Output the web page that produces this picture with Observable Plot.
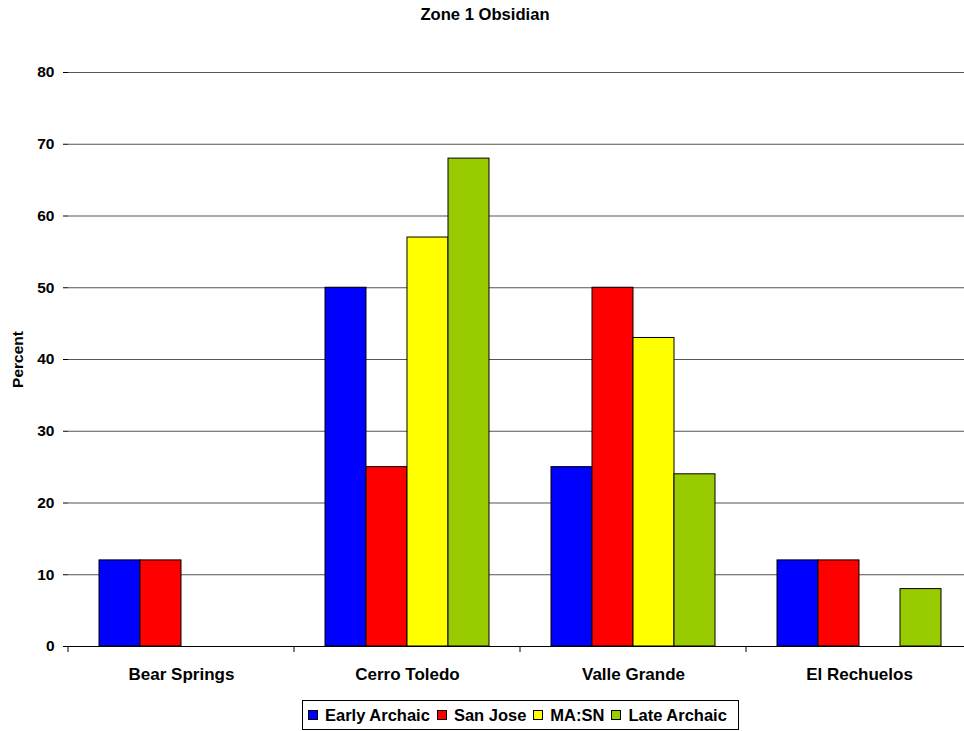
<!DOCTYPE html>
<html>
<head>
<meta charset="utf-8">
<script src="https://cdn.jsdelivr.net/npm/d3@7"></script>
<script src="https://cdn.jsdelivr.net/npm/@observablehq/plot@0.6"></script>
<style>
  html, body { margin: 0; padding: 0; background: #fff; overflow: hidden; }
  body { font-family: "Liberation Sans", Arial, sans-serif; width: 964px; height: 731px; position: relative; }
  #title { position: absolute; left: 0; top: 5px; width: 970px; text-align: center; font-weight: bold; font-size: 16.6px; color: #000; }
  #chart { position: absolute; left: 0; top: 0; }
  #chart svg { max-width: none !important; }
  #legend { position: absolute; left: 302px; top: 700px; height: 30px; border: 1px solid #000; display: flex; align-items: center; padding: 0 11px 0 5px; box-sizing: border-box; background: #fff; }
  #legend .item { display: flex; align-items: center; font-weight: bold; font-size: 16.5px; margin-right: 7px; }
  #legend .item:last-child { margin-right: 0; }
  #legend .sw { width: 10px; height: 10px; border: 1px solid #000; margin-right: 7px; box-sizing: border-box; }
</style>
</head>
<body>
<div id="title">Zone 1 Obsidian</div>
<div id="chart"></div>
<div id="legend"></div>
<script>
// Obsidian source percentages by period
const sites = ["Bear Springs", "Cerro Toledo", "Valle Grande", "El Rechuelos"];
const periods = ["Early Archaic", "San Jose", "MA:SN", "Late Archaic"];
const periodColors = ["#0000ff", "#ff0000", "#ffff00", "#99cc00"];
const earlyArchaic = [12, 50, 25, 12];
const sanJose = [12, 25, 50, 12];
const maSn = [0, 57, 43, 0];
const lateArchaic = [0, 68, 24, 8];
const yTicks = [0, 10, 20, 30, 40, 50, 60, 70, 80];

const seriesValues = [earlyArchaic, sanJose, maSn, lateArchaic];
const rows = [];
sites.forEach((site, i) => {
  periods.forEach((period, j) => {
    const value = seriesValues[j][i];
    if (value > 0) rows.push({site, period, value});
  });
});

// short tick marks below the baseline at each category boundary
const boundaryTick = (index, scales, values, dimensions) => {
  const {height, marginBottom, marginLeft} = dimensions;
  const g = d3.create("svg:g");
  g.append("line")
    .attr("x1", marginLeft).attr("x2", marginLeft)
    .attr("y1", height - marginBottom).attr("y2", height - marginBottom + 6)
    .attr("stroke", "#000");
  return g.node();
};

const chart = Plot.plot({
  width: 972,
  height: 700,
  marginTop: 72,
  marginLeft: 68,
  marginRight: 0,
  marginBottom: 54,
  style: {fontFamily: "'Liberation Sans', Arial, sans-serif", background: "transparent", maxWidth: "none"},
  fx: {domain: sites, padding: 0, label: null},
  x: {domain: periods, paddingInner: 0, paddingOuter: 0.75, axis: null},
  y: {domain: [0, 80], axis: null},
  color: {domain: periods, range: periodColors},
  marks: [
    Plot.ruleY(yTicks, {stroke: "#555", strokeWidth: 1.2}),
    Plot.barY(rows, {fx: "site", x: "period", y: "value", fill: "period", stroke: "#000", strokeWidth: 1}),
    Plot.ruleY([0], {stroke: "#000", strokeWidth: 1.2}),
    boundaryTick,
    Plot.axisFx({anchor: "bottom", tickSize: 0, tickPadding: 21, fontSize: 17, fontWeight: "bold", label: null, color: "#000"}),
    Plot.axisY({ticks: yTicks, tickSize: 5, tickPadding: 9, fontSize: 15.5, fontWeight: "bold", label: "Percent", labelAnchor: "center", labelOffset: 57, labelArrow: "none", color: "#000"}),
    Plot.ruleX([0], {facet: "exclude", stroke: "#000"})
  ]
});
document.getElementById("chart").appendChild(chart);

// legend
const legend = d3.select("#legend");
periods.forEach((p, i) => {
  const item = legend.append("div").attr("class", "item");
  item.append("div").attr("class", "sw").style("background", periodColors[i]);
  item.append("span").text(p);
});
</script>
</body>
</html>
